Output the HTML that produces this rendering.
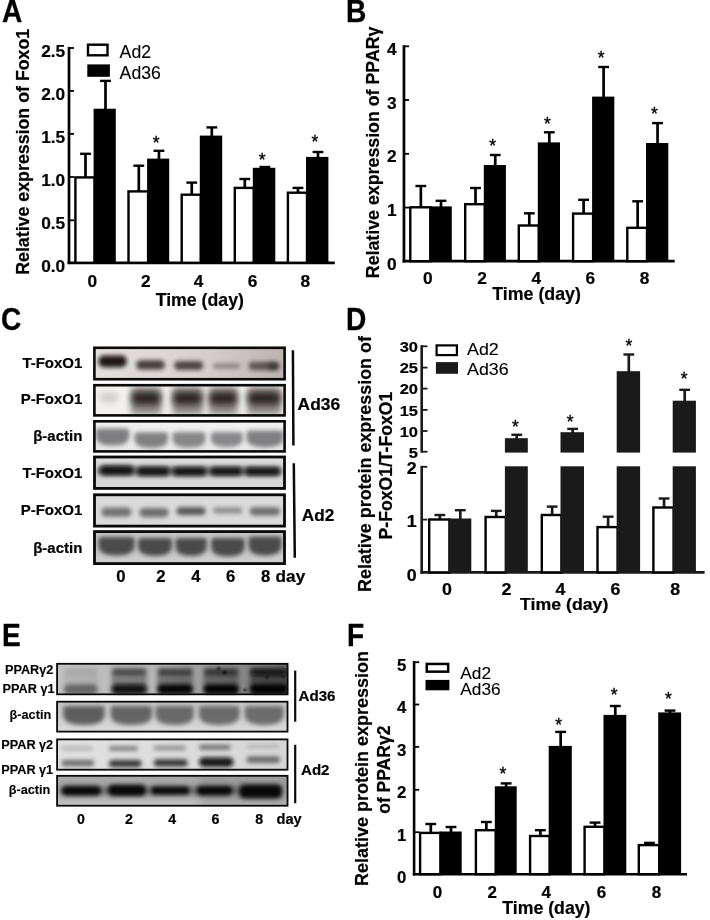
<!DOCTYPE html>
<html lang="en"><head><meta charset="utf-8"><title>Figure</title>
<style>html,body{margin:0;padding:0;background:#fff;}svg{display:block;}text{font-family:'Liberation Sans', sans-serif;fill:#000;}</style>
</head><body>
<svg width="710" height="920" viewBox="0 0 710 920">
<defs>
<filter id="b1" x="-50%" y="-100%" width="200%" height="300%"><feGaussianBlur stdDeviation="1"/></filter>
<filter id="b2" x="-50%" y="-100%" width="200%" height="300%"><feGaussianBlur stdDeviation="2"/></filter>
<filter id="b3" x="-50%" y="-100%" width="200%" height="300%"><feGaussianBlur stdDeviation="3"/></filter>
<filter id="b4" x="-50%" y="-100%" width="200%" height="300%"><feGaussianBlur stdDeviation="4"/></filter>
</defs>
<rect width="710" height="920" fill="#fff"/>
<text transform="translate(2.0 21.7) scale(0.92 1)" font-size="30.6" font-weight="bold" stroke="#000" stroke-width="0.3">A</text>
<text x="29" y="274.8" font-size="17.8" font-weight="bold" text-anchor="start" transform="rotate(-90 29 274.8)" stroke="#000" stroke-width="0.2">Relative expression of Foxo1</text>
<line x1="69.0" y1="46.9" x2="69.0" y2="264.1" stroke="#000" stroke-width="2.7"/>
<line x1="67.65" y1="262.8" x2="334.8" y2="262.8" stroke="#000" stroke-width="2.7"/>
<line x1="69.0" y1="48.0" x2="74.0" y2="48.0" stroke="#000" stroke-width="1.8"/>
<text x="65.2" y="56.7" font-size="17.3" font-weight="bold" text-anchor="end" stroke="#000" stroke-width="0.2">2.5</text>
<line x1="69.0" y1="90.9" x2="74.0" y2="90.9" stroke="#000" stroke-width="1.8"/>
<text x="65.2" y="99.60000000000001" font-size="17.3" font-weight="bold" text-anchor="end" stroke="#000" stroke-width="0.2">2.0</text>
<line x1="69.0" y1="133.9" x2="74.0" y2="133.9" stroke="#000" stroke-width="1.8"/>
<text x="65.2" y="142.6" font-size="17.3" font-weight="bold" text-anchor="end" stroke="#000" stroke-width="0.2">1.5</text>
<line x1="69.0" y1="177.0" x2="74.0" y2="177.0" stroke="#000" stroke-width="1.8"/>
<text x="65.2" y="185.7" font-size="17.3" font-weight="bold" text-anchor="end" stroke="#000" stroke-width="0.2">1.0</text>
<line x1="69.0" y1="220.3" x2="74.0" y2="220.3" stroke="#000" stroke-width="1.8"/>
<text x="65.2" y="229.0" font-size="17.3" font-weight="bold" text-anchor="end" stroke="#000" stroke-width="0.2">0.5</text>
<text x="65.2" y="271.6" font-size="17.3" font-weight="bold" text-anchor="end" stroke="#000" stroke-width="0.2">0.0</text>
<line x1="85.5" y1="153.8" x2="85.5" y2="177.2" stroke="#000" stroke-width="2.7"/>
<line x1="80.1" y1="153.8" x2="90.9" y2="153.8" stroke="#000" stroke-width="2.4"/>
<line x1="105.49999999999999" y1="80.9" x2="105.49999999999999" y2="109.7" stroke="#000" stroke-width="2.7"/>
<line x1="100.09999999999998" y1="80.9" x2="110.89999999999999" y2="80.9" stroke="#000" stroke-width="2.4"/>
<rect x="75.40" y="177.40" width="19.20" height="85.40" fill="#fff" stroke="#000" stroke-width="2.4"/>
<rect x="93.60" y="108.70" width="22.20" height="154.10" fill="#000"/>
<line x1="138.79999999999998" y1="165.7" x2="138.79999999999998" y2="191.2" stroke="#000" stroke-width="2.7"/>
<line x1="133.39999999999998" y1="165.7" x2="144.2" y2="165.7" stroke="#000" stroke-width="2.4"/>
<line x1="158.95" y1="150.8" x2="158.95" y2="159.6" stroke="#000" stroke-width="2.7"/>
<line x1="153.54999999999998" y1="150.8" x2="164.35" y2="150.8" stroke="#000" stroke-width="2.4"/>
<rect x="128.50" y="191.40" width="19.60" height="71.40" fill="#fff" stroke="#000" stroke-width="2.4"/>
<rect x="147.10" y="158.60" width="22.10" height="104.20" fill="#000"/>
<line x1="191.75" y1="182.6" x2="191.75" y2="194.5" stroke="#000" stroke-width="2.7"/>
<line x1="186.35" y1="182.6" x2="197.15" y2="182.6" stroke="#000" stroke-width="2.4"/>
<line x1="211.8" y1="127.4" x2="211.8" y2="136.6" stroke="#000" stroke-width="2.7"/>
<line x1="206.4" y1="127.4" x2="217.20000000000002" y2="127.4" stroke="#000" stroke-width="2.4"/>
<rect x="181.70" y="194.70" width="19.10" height="68.10" fill="#fff" stroke="#000" stroke-width="2.4"/>
<rect x="199.80" y="135.60" width="22.40" height="127.20" fill="#000"/>
<line x1="244.79999999999998" y1="179.0" x2="244.79999999999998" y2="187.7" stroke="#000" stroke-width="2.7"/>
<line x1="239.39999999999998" y1="179.0" x2="250.2" y2="179.0" stroke="#000" stroke-width="2.4"/>
<line x1="264.85" y1="167.0" x2="264.85" y2="168.8" stroke="#000" stroke-width="2.7"/>
<line x1="259.45000000000005" y1="167.0" x2="270.25" y2="167.0" stroke="#000" stroke-width="2.4"/>
<rect x="234.80" y="187.90" width="19.00" height="74.90" fill="#fff" stroke="#000" stroke-width="2.4"/>
<rect x="252.80" y="167.80" width="22.50" height="95.00" fill="#000"/>
<line x1="297.95000000000005" y1="187.9" x2="297.95000000000005" y2="192.5" stroke="#000" stroke-width="2.7"/>
<line x1="292.55000000000007" y1="187.9" x2="303.35" y2="187.9" stroke="#000" stroke-width="2.4"/>
<line x1="318.0" y1="152.0" x2="318.0" y2="157.9" stroke="#000" stroke-width="2.7"/>
<line x1="312.6" y1="152.0" x2="323.4" y2="152.0" stroke="#000" stroke-width="2.4"/>
<rect x="287.90" y="192.70" width="19.10" height="70.10" fill="#fff" stroke="#000" stroke-width="2.4"/>
<rect x="306.00" y="156.90" width="22.40" height="105.90" fill="#000"/>
<text x="92.4" y="286.6" font-size="17.3" font-weight="bold" text-anchor="middle" stroke="#000" stroke-width="0.2">0</text>
<text x="145.7" y="286.6" font-size="17.3" font-weight="bold" text-anchor="middle" stroke="#000" stroke-width="0.2">2</text>
<text x="198.5" y="286.6" font-size="17.3" font-weight="bold" text-anchor="middle" stroke="#000" stroke-width="0.2">4</text>
<text x="252.6" y="286.6" font-size="17.3" font-weight="bold" text-anchor="middle" stroke="#000" stroke-width="0.2">6</text>
<text x="305.2" y="286.6" font-size="17.3" font-weight="bold" text-anchor="middle" stroke="#000" stroke-width="0.2">8</text>
<text x="199.8" y="305.8" font-size="17.7" font-weight="bold" text-anchor="middle" stroke="#000" stroke-width="0.2">Time (day)</text>
<text x="156.2" y="148.5" font-size="17.5" font-weight="normal" text-anchor="middle" stroke="#000" stroke-width="0.35">*</text>
<text x="262.2" y="166.20000000000002" font-size="17.5" font-weight="normal" text-anchor="middle" stroke="#000" stroke-width="0.35">*</text>
<text x="314.8" y="147.9" font-size="17.5" font-weight="normal" text-anchor="middle" stroke="#000" stroke-width="0.35">*</text>
<rect x="88.00" y="44.70" width="19.50" height="10.60" fill="#fff" stroke="#000" stroke-width="2.4"/>
<rect x="87.30" y="64.40" width="22.60" height="12.40" fill="#000"/>
<text x="119.6" y="58.1" font-size="17.7" font-weight="normal" text-anchor="start" stroke="#000" stroke-width="0.1">Ad2</text>
<text x="119.6" y="79" font-size="17.7" font-weight="normal" text-anchor="start" stroke="#000" stroke-width="0.1">Ad36</text>
<text transform="translate(346.0 21.7) scale(0.92 1)" font-size="30.6" font-weight="bold" stroke="#000" stroke-width="0.3">B</text>
<text x="379.2" y="278.2" font-size="17.8" font-weight="bold" text-anchor="start" transform="rotate(-90 379.2 278.2)" stroke="#000" stroke-width="0.2">Relative expression of PPARγ</text>
<line x1="403.95" y1="45.2" x2="403.95" y2="262.5" stroke="#000" stroke-width="2.7"/>
<line x1="402.59999999999997" y1="261.2" x2="674.7" y2="261.2" stroke="#000" stroke-width="2.7"/>
<line x1="403.95" y1="46.3" x2="409.0" y2="46.3" stroke="#000" stroke-width="1.8"/>
<text x="396.5" y="54.9" font-size="17.3" font-weight="bold" text-anchor="end" stroke="#000" stroke-width="0.2">4</text>
<line x1="403.95" y1="100.0" x2="409.0" y2="100.0" stroke="#000" stroke-width="1.8"/>
<text x="396.5" y="108.6" font-size="17.3" font-weight="bold" text-anchor="end" stroke="#000" stroke-width="0.2">3</text>
<line x1="403.95" y1="153.8" x2="409.0" y2="153.8" stroke="#000" stroke-width="1.8"/>
<text x="396.5" y="162.4" font-size="17.3" font-weight="bold" text-anchor="end" stroke="#000" stroke-width="0.2">2</text>
<line x1="403.95" y1="207.6" x2="409.0" y2="207.6" stroke="#000" stroke-width="1.8"/>
<text x="396.5" y="216.2" font-size="17.3" font-weight="bold" text-anchor="end" stroke="#000" stroke-width="0.2">1</text>
<text x="396.5" y="269.9" font-size="17.3" font-weight="bold" text-anchor="end" stroke="#000" stroke-width="0.2">0</text>
<line x1="420.85" y1="186.0" x2="420.85" y2="207.1" stroke="#000" stroke-width="2.7"/>
<line x1="415.45000000000005" y1="186.0" x2="426.25" y2="186.0" stroke="#000" stroke-width="2.4"/>
<line x1="441.0" y1="200.8" x2="441.0" y2="207.4" stroke="#000" stroke-width="2.7"/>
<line x1="435.6" y1="200.8" x2="446.4" y2="200.8" stroke="#000" stroke-width="2.4"/>
<rect x="410.30" y="207.30" width="20.10" height="53.90" fill="#fff" stroke="#000" stroke-width="2.4"/>
<rect x="429.40" y="206.40" width="22.40" height="54.80" fill="#000"/>
<line x1="475.5" y1="188.0" x2="475.5" y2="204.0" stroke="#000" stroke-width="2.7"/>
<line x1="470.1" y1="188.0" x2="480.9" y2="188.0" stroke="#000" stroke-width="2.4"/>
<line x1="495.25" y1="155.0" x2="495.25" y2="166.0" stroke="#000" stroke-width="2.7"/>
<line x1="489.85" y1="155.0" x2="500.65" y2="155.0" stroke="#000" stroke-width="2.4"/>
<rect x="465.20" y="204.20" width="19.60" height="57.00" fill="#fff" stroke="#000" stroke-width="2.4"/>
<rect x="483.80" y="165.00" width="22.10" height="96.20" fill="#000"/>
<line x1="529.3000000000001" y1="213.3" x2="529.3000000000001" y2="225.3" stroke="#000" stroke-width="2.7"/>
<line x1="523.9000000000001" y1="213.3" x2="534.7" y2="213.3" stroke="#000" stroke-width="2.4"/>
<line x1="549.3" y1="132.3" x2="549.3" y2="143.4" stroke="#000" stroke-width="2.7"/>
<line x1="543.9" y1="132.3" x2="554.6999999999999" y2="132.3" stroke="#000" stroke-width="2.4"/>
<rect x="518.80" y="225.50" width="20.00" height="35.70" fill="#fff" stroke="#000" stroke-width="2.4"/>
<rect x="537.80" y="142.40" width="22.20" height="118.80" fill="#000"/>
<line x1="583.6" y1="199.8" x2="583.6" y2="213.4" stroke="#000" stroke-width="2.7"/>
<line x1="578.2" y1="199.8" x2="589.0" y2="199.8" stroke="#000" stroke-width="2.4"/>
<line x1="603.6" y1="67.0" x2="603.6" y2="97.6" stroke="#000" stroke-width="2.7"/>
<line x1="598.2" y1="67.0" x2="609.0" y2="67.0" stroke="#000" stroke-width="2.4"/>
<rect x="573.10" y="213.60" width="20.00" height="47.60" fill="#fff" stroke="#000" stroke-width="2.4"/>
<rect x="592.10" y="96.60" width="22.20" height="164.60" fill="#000"/>
<line x1="637.65" y1="201.3" x2="637.65" y2="227.6" stroke="#000" stroke-width="2.7"/>
<line x1="632.25" y1="201.3" x2="643.05" y2="201.3" stroke="#000" stroke-width="2.4"/>
<line x1="657.55" y1="123.1" x2="657.55" y2="144.0" stroke="#000" stroke-width="2.7"/>
<line x1="652.15" y1="123.1" x2="662.9499999999999" y2="123.1" stroke="#000" stroke-width="2.4"/>
<rect x="627.30" y="227.80" width="19.70" height="33.40" fill="#fff" stroke="#000" stroke-width="2.4"/>
<rect x="646.00" y="143.00" width="22.30" height="118.20" fill="#000"/>
<text x="427.9" y="284.3" font-size="17.3" font-weight="bold" text-anchor="middle" stroke="#000" stroke-width="0.2">0</text>
<text x="482.1" y="284.3" font-size="17.3" font-weight="bold" text-anchor="middle" stroke="#000" stroke-width="0.2">2</text>
<text x="536.3" y="284.3" font-size="17.3" font-weight="bold" text-anchor="middle" stroke="#000" stroke-width="0.2">4</text>
<text x="590.3" y="284.3" font-size="17.3" font-weight="bold" text-anchor="middle" stroke="#000" stroke-width="0.2">6</text>
<text x="644.6" y="284.3" font-size="17.3" font-weight="bold" text-anchor="middle" stroke="#000" stroke-width="0.2">8</text>
<text x="536.6" y="299.8" font-size="17.8" font-weight="bold" text-anchor="middle" stroke="#000" stroke-width="0.2">Time (day)</text>
<text x="492.7" y="151.70000000000002" font-size="17.5" font-weight="normal" text-anchor="middle" stroke="#000" stroke-width="0.35">*</text>
<text x="547.3" y="129.9" font-size="17.5" font-weight="normal" text-anchor="middle" stroke="#000" stroke-width="0.35">*</text>
<text x="601.2" y="63.699999999999996" font-size="17.5" font-weight="normal" text-anchor="middle" stroke="#000" stroke-width="0.35">*</text>
<text x="654.5" y="120.4" font-size="17.5" font-weight="normal" text-anchor="middle" stroke="#000" stroke-width="0.35">*</text>
<text transform="translate(1.0 330.0) scale(0.92 1)" font-size="30.6" font-weight="bold" stroke="#000" stroke-width="0.3">C</text>
<linearGradient id="gC1" x1="0" y1="0" x2="1" y2="0"><stop offset="0" stop-color="#e4e0de"/><stop offset="0.5" stop-color="#d9d4d2"/><stop offset="0.8" stop-color="#c8c0be"/><stop offset="1" stop-color="#bcb2b0"/></linearGradient>
<clipPath id="c1"><rect x="93.1" y="346.5" width="192.80" height="34.00"/></clipPath>
<g clip-path="url(#c1)">
<rect x="93.10" y="346.50" width="192.80" height="34.00" fill="url(#gC1)"/>
<rect x="98.6" y="355.6" width="28.0" height="11.6" rx="5.0" fill="#120c0c" opacity="0.95" filter="url(#b2)"/>
<rect x="136.2" y="360.2" width="28.6" height="9.4" rx="4.7" fill="#2c2424" opacity="0.85" filter="url(#b2)"/>
<rect x="174.1" y="361.0" width="29.1" height="9.0" rx="4.5" fill="#2e2626" opacity="0.82" filter="url(#b2)"/>
<rect x="213.0" y="363.6" width="27.0" height="5.0" rx="2.5" fill="#5a5452" opacity="0.6" filter="url(#b2)"/>
<rect x="248.5" y="361.8" width="30.5" height="8.4" rx="4.2" fill="#3a3432" opacity="0.75" filter="url(#b2)"/>
<rect x="268.0" y="362.5" width="11.0" height="7.3" rx="3.7" fill="#1a1414" opacity="0.5" filter="url(#b2)"/>
</g>
<rect x="94.40" y="347.80" width="190.20" height="31.40" fill="none" stroke="#0a0a0a" stroke-width="2.6"/>
<clipPath id="c2"><rect x="93.1" y="383.9" width="192.80" height="32.80"/></clipPath>
<g clip-path="url(#c2)">
<rect x="93.10" y="383.90" width="192.80" height="32.80" fill="#f3f2f1"/>
<rect x="99.7" y="392.5" width="18.8" height="10.0" rx="5.0" fill="#8a8482" opacity="0.32" filter="url(#b3)"/>
<rect x="130.7" y="387.0" width="30.8" height="27.5" rx="4.0" fill="#4a4240" opacity="0.6" filter="url(#b3)"/>
<rect x="131.7" y="392.0" width="28.8" height="12.5" rx="5.0" fill="#140e0e" opacity="0.8" filter="url(#b3)"/>
<rect x="172.0" y="387.0" width="31.0" height="27.5" rx="4.0" fill="#4a4240" opacity="0.6" filter="url(#b3)"/>
<rect x="173.0" y="392.0" width="29.0" height="12.5" rx="5.0" fill="#140e0e" opacity="0.8" filter="url(#b3)"/>
<rect x="208.5" y="387.0" width="29.5" height="27.5" rx="4.0" fill="#4a4240" opacity="0.6" filter="url(#b3)"/>
<rect x="209.5" y="392.0" width="27.5" height="12.5" rx="5.0" fill="#140e0e" opacity="0.8" filter="url(#b3)"/>
<rect x="247.0" y="387.0" width="34.5" height="27.5" rx="4.0" fill="#4a4240" opacity="0.6" filter="url(#b3)"/>
<rect x="248.0" y="392.0" width="32.5" height="12.5" rx="5.0" fill="#140e0e" opacity="0.8" filter="url(#b3)"/>
</g>
<rect x="94.40" y="385.20" width="190.20" height="30.20" fill="none" stroke="#0a0a0a" stroke-width="2.6"/>
<linearGradient id="gC3" x1="0" y1="0" x2="0" y2="1"><stop offset="0" stop-color="#f2f2f2"/><stop offset="1" stop-color="#e6e6e6"/></linearGradient>
<clipPath id="c3"><rect x="93.1" y="420.0" width="192.80" height="32.70"/></clipPath>
<g clip-path="url(#c3)">
<rect x="93.10" y="420.00" width="192.80" height="32.70" fill="url(#gC3)"/>
<path d="M95.9,430.4 Q95.9,428.4 99.9,428.4 L125.2,428.4 Q129.2,428.4 129.2,430.4 L129.2,436.1 Q129.2,445.6 112.5,445.6 Q95.9,445.6 95.9,436.1 Z" fill="#666668" opacity="0.82" filter="url(#b2)"/>
<path d="M134.6,434.2 Q134.6,432.2 138.6,432.2 L164.0,432.2 Q168.0,432.2 168.0,434.2 L168.0,439.3 Q168.0,448.0 151.3,448.0 Q134.6,448.0 134.6,439.3 Z" fill="#6a6a6c" opacity="0.82" filter="url(#b2)"/>
<path d="M172.6,434.0 Q172.6,432.0 176.6,432.0 L201.5,432.0 Q205.5,432.0 205.5,434.0 L205.5,439.0 Q205.5,447.6 189.1,447.6 Q172.6,447.6 172.6,439.0 Z" fill="#6e6e70" opacity="0.8" filter="url(#b2)"/>
<path d="M210.9,434.0 Q210.9,432.0 214.9,432.0 L238.7,432.0 Q242.7,432.0 242.7,434.0 L242.7,438.8 Q242.7,447.0 226.8,447.0 Q210.9,447.0 210.9,438.8 Z" fill="#707072" opacity="0.8" filter="url(#b2)"/>
<path d="M246.6,432.5 Q246.6,430.5 250.6,430.5 L279.5,430.5 Q283.5,430.5 283.5,432.5 L283.5,438.0 Q283.5,447.2 265.1,447.2 Q246.6,447.2 246.6,438.0 Z" fill="#68686a" opacity="0.82" filter="url(#b2)"/>
</g>
<rect x="94.40" y="421.30" width="190.20" height="30.10" fill="none" stroke="#0a0a0a" stroke-width="2.6"/>
<linearGradient id="gC4" x1="0" y1="0" x2="0" y2="1"><stop offset="0" stop-color="#e0e0e0"/><stop offset="0.4" stop-color="#d2d2d2"/><stop offset="1" stop-color="#d8d8d8"/></linearGradient>
<clipPath id="c4"><rect x="93.1" y="455.6" width="192.80" height="34.20"/></clipPath>
<g clip-path="url(#c4)">
<rect x="93.10" y="455.60" width="192.80" height="34.20" fill="url(#gC4)"/>
<rect x="97.0" y="466.5" width="185.0" height="9.0" rx="4.5" fill="#3a3a3a" opacity="0.6" filter="url(#b2)"/>
<rect x="99.7" y="465.4" width="34.1" height="9.5" rx="4.8" fill="#0c0c0c" opacity="0.92" filter="url(#b2)"/>
<rect x="137.0" y="467.0" width="32.5" height="8.8" rx="4.4" fill="#0c0c0c" opacity="0.92" filter="url(#b2)"/>
<rect x="172.6" y="467.2" width="33.7" height="8.6" rx="4.3" fill="#0c0c0c" opacity="0.92" filter="url(#b2)"/>
<rect x="210.2" y="467.2" width="31.8" height="8.4" rx="4.2" fill="#0c0c0c" opacity="0.92" filter="url(#b2)"/>
<rect x="245.0" y="467.6" width="35.0" height="8.0" rx="4.0" fill="#0c0c0c" opacity="0.92" filter="url(#b2)"/>
</g>
<rect x="94.50" y="457.00" width="190.00" height="31.40" fill="none" stroke="#0a0a0a" stroke-width="2.8"/>
<clipPath id="c5"><rect x="93.1" y="493.4" width="192.80" height="34.10"/></clipPath>
<g clip-path="url(#c5)">
<rect x="93.10" y="493.40" width="192.80" height="34.10" fill="#dadada"/>
<rect x="101.3" y="507.4" width="30.2" height="9.4" rx="4.7" fill="#4c4c4c" opacity="0.72" filter="url(#b2)"/>
<rect x="139.3" y="508.0" width="29.4" height="9.2" rx="4.6" fill="#4a4a4a" opacity="0.74" filter="url(#b2)"/>
<rect x="176.5" y="507.2" width="29.0" height="7.8" rx="3.9" fill="#363636" opacity="0.8" filter="url(#b2)"/>
<rect x="213.3" y="507.4" width="28.7" height="6.2" rx="3.1" fill="#5c5c5c" opacity="0.62" filter="url(#b2)"/>
<rect x="249.7" y="507.2" width="30.3" height="8.2" rx="4.1" fill="#464646" opacity="0.74" filter="url(#b2)"/>
</g>
<rect x="94.50" y="494.80" width="190.00" height="31.30" fill="none" stroke="#0a0a0a" stroke-width="2.8"/>
<linearGradient id="gC6" x1="0" y1="0" x2="0" y2="1"><stop offset="0" stop-color="#c6c6c6"/><stop offset="0.6" stop-color="#c4c4c4"/><stop offset="1" stop-color="#d2d2d2"/></linearGradient>
<clipPath id="c6"><rect x="93.1" y="530.2" width="192.80" height="34.80"/></clipPath>
<g clip-path="url(#c6)">
<rect x="93.10" y="530.20" width="192.80" height="34.80" fill="url(#gC6)"/>
<path d="M98.5,539.0 Q98.5,537.0 102.5,537.0 L130.5,537.0 Q134.5,537.0 134.5,539.0 L134.5,545.3 Q134.5,555.5 116.5,555.5 Q98.5,555.5 98.5,545.3 Z" fill="#363636" opacity="0.85" filter="url(#b2)"/>
<path d="M138.0,540.0 Q138.0,538.0 142.0,538.0 L168.0,538.0 Q172.0,538.0 172.0,540.0 L172.0,546.1 Q172.0,556.0 155.0,556.0 Q138.0,556.0 138.0,546.1 Z" fill="#363636" opacity="0.85" filter="url(#b2)"/>
<path d="M175.5,540.0 Q175.5,538.0 179.5,538.0 L202.8,538.0 Q206.8,538.0 206.8,540.0 L206.8,546.1 Q206.8,556.0 191.2,556.0 Q175.5,556.0 175.5,546.1 Z" fill="#363636" opacity="0.85" filter="url(#b2)"/>
<path d="M211.2,540.0 Q211.2,538.0 215.2,538.0 L240.6,538.0 Q244.6,538.0 244.6,540.0 L244.6,546.3 Q244.6,556.5 227.9,556.5 Q211.2,556.5 211.2,546.3 Z" fill="#363636" opacity="0.85" filter="url(#b2)"/>
<path d="M248.5,538.5 Q248.5,536.5 252.5,536.5 L277.5,536.5 Q281.5,536.5 281.5,538.5 L281.5,545.0 Q281.5,555.5 265.0,555.5 Q248.5,555.5 248.5,545.0 Z" fill="#363636" opacity="0.85" filter="url(#b2)"/>
</g>
<rect x="94.50" y="531.60" width="190.00" height="32.00" fill="none" stroke="#0a0a0a" stroke-width="2.8"/>
<text x="82.4" y="368.3" font-size="15" font-weight="bold" text-anchor="end" stroke="#000" stroke-width="0.2">T-FoxO1</text>
<text x="82.4" y="404.2" font-size="15" font-weight="bold" text-anchor="end" stroke="#000" stroke-width="0.2">P-FoxO1</text>
<text x="82.4" y="440.7" font-size="15" font-weight="bold" text-anchor="end" stroke="#000" stroke-width="0.2">β-actin</text>
<text x="82.4" y="477.7" font-size="15" font-weight="bold" text-anchor="end" stroke="#000" stroke-width="0.2">T-FoxO1</text>
<text x="82.4" y="514.8" font-size="15" font-weight="bold" text-anchor="end" stroke="#000" stroke-width="0.2">P-FoxO1</text>
<text x="82.4" y="553.3" font-size="15" font-weight="bold" text-anchor="end" stroke="#000" stroke-width="0.2">β-actin</text>
<line x1="292.9" y1="350.2" x2="293.4" y2="445.4" stroke="#0a0a0a" stroke-width="2.5"/>
<line x1="293.8" y1="463.3" x2="294.8" y2="557.8" stroke="#0a0a0a" stroke-width="2.5"/>
<text x="297.6" y="409.5" font-size="17.4" font-weight="bold" text-anchor="start" stroke="#000" stroke-width="0.2">Ad36</text>
<text x="301.8" y="520.7" font-size="17.2" font-weight="bold" text-anchor="start" stroke="#000" stroke-width="0.2">Ad2</text>
<text x="120.9" y="582.0" font-size="16.7" font-weight="bold" text-anchor="middle" stroke="#000" stroke-width="0.2">0</text>
<text x="160.8" y="582.0" font-size="16.7" font-weight="bold" text-anchor="middle" stroke="#000" stroke-width="0.2">2</text>
<text x="196.0" y="582.0" font-size="16.7" font-weight="bold" text-anchor="middle" stroke="#000" stroke-width="0.2">4</text>
<text x="230.6" y="582.0" font-size="16.7" font-weight="bold" text-anchor="middle" stroke="#000" stroke-width="0.2">6</text>
<text x="265.6" y="582.0" font-size="16.7" font-weight="bold" text-anchor="middle" stroke="#000" stroke-width="0.2">8</text>
<text x="275.6" y="582.0" font-size="17.2" font-weight="bold" text-anchor="start" stroke="#000" stroke-width="0.2">day</text>
<text transform="translate(346.0 329.8) scale(0.92 1)" font-size="30.6" font-weight="bold" stroke="#000" stroke-width="0.3">D</text>
<text x="371.2" y="592.0" font-size="17.93" font-weight="bold" text-anchor="start" transform="rotate(-90 371.2 592.0)" stroke="#000" stroke-width="0.2">Relative protein expression of</text>
<text x="391.8" y="539.4" font-size="17.6" font-weight="bold" text-anchor="start" transform="rotate(-90 391.8 539.4)" stroke="#000" stroke-width="0.2">P-FoxO1/T-FoxO1</text>
<line x1="421.7" y1="345.2" x2="421.7" y2="452.7" stroke="#1a1a1a" stroke-width="2.6"/>
<line x1="421.7" y1="346.3" x2="427.5" y2="346.3" stroke="#1a1a1a" stroke-width="1.8"/>
<text transform="translate(418.0 352.1) scale(1.13 1)" font-size="14.6" font-weight="bold" text-anchor="end" stroke="#000" stroke-width="0.2">30</text>
<line x1="421.7" y1="367.6" x2="427.5" y2="367.6" stroke="#1a1a1a" stroke-width="1.8"/>
<text transform="translate(418.0 373.40000000000003) scale(1.13 1)" font-size="14.6" font-weight="bold" text-anchor="end" stroke="#000" stroke-width="0.2">25</text>
<line x1="421.7" y1="388.6" x2="427.5" y2="388.6" stroke="#1a1a1a" stroke-width="1.8"/>
<text transform="translate(418.0 394.40000000000003) scale(1.13 1)" font-size="14.6" font-weight="bold" text-anchor="end" stroke="#000" stroke-width="0.2">20</text>
<line x1="421.7" y1="409.9" x2="427.5" y2="409.9" stroke="#1a1a1a" stroke-width="1.8"/>
<text transform="translate(418.0 415.7) scale(1.13 1)" font-size="14.6" font-weight="bold" text-anchor="end" stroke="#000" stroke-width="0.2">15</text>
<line x1="421.7" y1="431.0" x2="427.5" y2="431.0" stroke="#1a1a1a" stroke-width="1.8"/>
<text transform="translate(418.0 436.8) scale(1.13 1)" font-size="14.6" font-weight="bold" text-anchor="end" stroke="#000" stroke-width="0.2">10</text>
<line x1="421.7" y1="451.7" x2="427.5" y2="451.7" stroke="#1a1a1a" stroke-width="1.8"/>
<text transform="translate(418.0 457.5) scale(1.13 1)" font-size="14.6" font-weight="bold" text-anchor="end" stroke="#000" stroke-width="0.2">5</text>
<line x1="421.7" y1="465.8" x2="421.7" y2="573.6999999999999" stroke="#1a1a1a" stroke-width="2.6"/>
<line x1="420.4" y1="572.4" x2="704.6" y2="572.4" stroke="#1a1a1a" stroke-width="2.6"/>
<line x1="421.7" y1="466.8" x2="427.3" y2="466.8" stroke="#1a1a1a" stroke-width="1.8"/>
<text transform="translate(416.6 474.1) scale(1.13 1)" font-size="15.8" font-weight="bold" text-anchor="end" stroke="#000" stroke-width="0.2">2</text>
<line x1="421.7" y1="519.6" x2="427.3" y2="519.6" stroke="#1a1a1a" stroke-width="1.8"/>
<text transform="translate(416.6 526.9) scale(1.13 1)" font-size="15.8" font-weight="bold" text-anchor="end" stroke="#000" stroke-width="0.2">1</text>
<text transform="translate(416.6 581.4) scale(1.13 1)" font-size="15.8" font-weight="bold" text-anchor="end" stroke="#000" stroke-width="0.2">0</text>
<line x1="439.85" y1="515.0" x2="439.85" y2="519.3" stroke="#1a1a1a" stroke-width="2.7"/>
<line x1="434.45000000000005" y1="515.0" x2="445.25" y2="515.0" stroke="#1a1a1a" stroke-width="2.4"/>
<line x1="460.29999999999995" y1="510.2" x2="460.29999999999995" y2="519.5" stroke="#1a1a1a" stroke-width="2.7"/>
<line x1="454.9" y1="510.2" x2="465.69999999999993" y2="510.2" stroke="#1a1a1a" stroke-width="2.4"/>
<rect x="429.20" y="519.50" width="20.30" height="52.90" fill="#fff" stroke="#000" stroke-width="2.4"/>
<rect x="448.50" y="518.50" width="22.80" height="53.90" fill="#1a1a1a"/>
<line x1="496.25" y1="510.9" x2="496.25" y2="516.8" stroke="#1a1a1a" stroke-width="2.7"/>
<line x1="490.85" y1="510.9" x2="501.65" y2="510.9" stroke="#1a1a1a" stroke-width="2.4"/>
<line x1="516.7499999999999" y1="434.8" x2="516.7499999999999" y2="439.2" stroke="#1a1a1a" stroke-width="2.7"/>
<line x1="511.3499999999999" y1="434.8" x2="522.1499999999999" y2="434.8" stroke="#1a1a1a" stroke-width="2.4"/>
<rect x="485.60" y="517.00" width="20.30" height="55.40" fill="#fff" stroke="#000" stroke-width="2.4"/>
<rect x="504.90" y="438.20" width="22.90" height="14.40" fill="#1a1a1a"/>
<rect x="504.90" y="466.30" width="22.90" height="106.10" fill="#1a1a1a"/>
<line x1="552.15" y1="506.6" x2="552.15" y2="514.8" stroke="#1a1a1a" stroke-width="2.7"/>
<line x1="546.75" y1="506.6" x2="557.55" y2="506.6" stroke="#1a1a1a" stroke-width="2.4"/>
<line x1="572.65" y1="428.9" x2="572.65" y2="433.2" stroke="#1a1a1a" stroke-width="2.7"/>
<line x1="567.25" y1="428.9" x2="578.05" y2="428.9" stroke="#1a1a1a" stroke-width="2.4"/>
<rect x="541.80" y="515.00" width="19.70" height="57.40" fill="#fff" stroke="#000" stroke-width="2.4"/>
<rect x="560.50" y="432.20" width="23.50" height="20.40" fill="#1a1a1a"/>
<rect x="560.50" y="466.30" width="23.50" height="106.10" fill="#1a1a1a"/>
<line x1="608.1" y1="516.7" x2="608.1" y2="526.9" stroke="#1a1a1a" stroke-width="2.7"/>
<line x1="602.7" y1="516.7" x2="613.5" y2="516.7" stroke="#1a1a1a" stroke-width="2.4"/>
<line x1="628.8000000000001" y1="354.5" x2="628.8000000000001" y2="372.2" stroke="#1a1a1a" stroke-width="2.7"/>
<line x1="623.4000000000001" y1="354.5" x2="634.2" y2="354.5" stroke="#1a1a1a" stroke-width="2.4"/>
<rect x="597.50" y="527.10" width="20.20" height="45.30" fill="#fff" stroke="#000" stroke-width="2.4"/>
<rect x="616.70" y="371.20" width="23.40" height="81.40" fill="#1a1a1a"/>
<rect x="616.70" y="466.30" width="23.40" height="106.10" fill="#1a1a1a"/>
<line x1="664.0500000000001" y1="498.5" x2="664.0500000000001" y2="507.3" stroke="#1a1a1a" stroke-width="2.7"/>
<line x1="658.6500000000001" y1="498.5" x2="669.45" y2="498.5" stroke="#1a1a1a" stroke-width="2.4"/>
<line x1="684.6999999999999" y1="389.8" x2="684.6999999999999" y2="401.7" stroke="#1a1a1a" stroke-width="2.7"/>
<line x1="679.3" y1="389.8" x2="690.0999999999999" y2="389.8" stroke="#1a1a1a" stroke-width="2.4"/>
<rect x="653.40" y="507.50" width="20.30" height="64.90" fill="#fff" stroke="#000" stroke-width="2.4"/>
<rect x="672.70" y="400.70" width="23.20" height="51.90" fill="#1a1a1a"/>
<rect x="672.70" y="466.30" width="23.20" height="106.10" fill="#1a1a1a"/>
<text transform="translate(446.9 594.6) scale(1.13 1)" font-size="15.8" font-weight="bold" text-anchor="middle" stroke="#000" stroke-width="0.2">0</text>
<text transform="translate(506.5 594.6) scale(1.13 1)" font-size="15.8" font-weight="bold" text-anchor="middle" stroke="#000" stroke-width="0.2">2</text>
<text transform="translate(560.5 594.6) scale(1.13 1)" font-size="15.8" font-weight="bold" text-anchor="middle" stroke="#000" stroke-width="0.2">4</text>
<text transform="translate(615.4 594.6) scale(1.13 1)" font-size="15.8" font-weight="bold" text-anchor="middle" stroke="#000" stroke-width="0.2">6</text>
<text transform="translate(675.3 594.6) scale(1.13 1)" font-size="15.8" font-weight="bold" text-anchor="middle" stroke="#000" stroke-width="0.2">8</text>
<text transform="translate(564.2 610.4) scale(1.13 1)" font-size="15.7" font-weight="bold" text-anchor="middle" stroke="#000" stroke-width="0.2">Time (day)</text>
<text x="515.3" y="432.5" font-size="17.5" font-weight="normal" text-anchor="middle" stroke="#000" stroke-width="0.35">*</text>
<text x="570.1" y="428.29999999999995" font-size="17.5" font-weight="normal" text-anchor="middle" stroke="#000" stroke-width="0.35">*</text>
<text x="628.8" y="352.0" font-size="17.5" font-weight="normal" text-anchor="middle" stroke="#000" stroke-width="0.35">*</text>
<text x="684.2" y="385.2" font-size="17.5" font-weight="normal" text-anchor="middle" stroke="#000" stroke-width="0.35">*</text>
<rect x="436.60" y="345.40" width="20.30" height="9.70" fill="#fff" stroke="#000" stroke-width="2.2"/>
<rect x="435.90" y="362.10" width="22.10" height="11.70" fill="#1a1a1a"/>
<text transform="translate(467.0 354.8) scale(1.13 1)" font-size="15.8" font-weight="normal" text-anchor="start" stroke="#000" stroke-width="0.1">Ad2</text>
<text transform="translate(467.0 375.2) scale(1.13 1)" font-size="15.8" font-weight="normal" text-anchor="start" stroke="#000" stroke-width="0.1">Ad36</text>
<text transform="translate(2.0 646.2) scale(0.92 1)" font-size="30.6" font-weight="bold" stroke="#000" stroke-width="0.3">E</text>
<linearGradient id="gE1" x1="0" y1="0" x2="1" y2="0"><stop offset="0" stop-color="#c4c4c4"/><stop offset="0.45" stop-color="#b4b4b4"/><stop offset="0.75" stop-color="#8e8e8e"/><stop offset="1" stop-color="#6a6a6a"/></linearGradient>
<clipPath id="c7"><rect x="56.2" y="662.9" width="232.20" height="32.30"/></clipPath>
<g clip-path="url(#c7)">
<rect x="56.20" y="662.90" width="232.20" height="32.30" fill="url(#gE1)"/>
<rect x="64.0" y="668.0" width="33.5" height="25.5" rx="3.0" fill="#303030" opacity="0.1" filter="url(#b2)"/>
<rect x="65.0" y="669.3" width="31.5" height="6.1" rx="3.1" fill="#8a8a8a" opacity="0.22" filter="url(#b2)"/>
<rect x="64.0" y="684.2" width="33.5" height="10.0" rx="5.0" fill="#4a4a4a" opacity="0.72" filter="url(#b2)"/>
<rect x="111.6" y="668.0" width="35.2" height="25.5" rx="3.0" fill="#303030" opacity="0.42" filter="url(#b2)"/>
<rect x="112.6" y="669.3" width="33.2" height="6.1" rx="3.1" fill="#303030" opacity="0.68" filter="url(#b2)"/>
<rect x="111.6" y="684.2" width="35.2" height="10.0" rx="5.0" fill="#080808" opacity="0.95" filter="url(#b2)"/>
<rect x="157.4" y="668.0" width="35.5" height="25.5" rx="3.0" fill="#303030" opacity="0.48" filter="url(#b2)"/>
<rect x="158.4" y="669.3" width="33.5" height="6.1" rx="3.1" fill="#262626" opacity="0.68" filter="url(#b2)"/>
<rect x="157.4" y="684.2" width="35.5" height="10.0" rx="5.0" fill="#060606" opacity="0.95" filter="url(#b2)"/>
<rect x="203.5" y="668.0" width="35.2" height="25.5" rx="3.0" fill="#303030" opacity="0.48" filter="url(#b2)"/>
<rect x="204.5" y="669.3" width="33.2" height="6.1" rx="3.1" fill="#1c1c1c" opacity="0.66" filter="url(#b2)"/>
<rect x="203.5" y="684.2" width="35.2" height="10.0" rx="5.0" fill="#040404" opacity="0.97" filter="url(#b2)"/>
<rect x="250.0" y="668.0" width="38.0" height="25.5" rx="3.0" fill="#303030" opacity="0.7" filter="url(#b2)"/>
<rect x="251.0" y="669.3" width="36.0" height="6.1" rx="3.1" fill="#0c0c0c" opacity="0.9" filter="url(#b2)"/>
<rect x="250.0" y="684.2" width="38.0" height="10.0" rx="5.0" fill="#020202" opacity="1.0" filter="url(#b2)"/>
<circle cx="218.7" cy="668.6" r="1.6" fill="#050505" opacity="0.85" filter="url(#b1)"/>
<circle cx="224.6" cy="672.6" r="1.9" fill="#050505" opacity="0.85" filter="url(#b1)"/>
<circle cx="245.0" cy="690.0" r="1.6" fill="#050505" opacity="0.85" filter="url(#b1)"/>
<circle cx="267.0" cy="677.2" r="1.5" fill="#050505" opacity="0.85" filter="url(#b1)"/>
<circle cx="283.2" cy="677.0" r="1.2" fill="#050505" opacity="0.85" filter="url(#b1)"/>
</g>
<rect x="57.10" y="663.80" width="230.40" height="30.50" fill="none" stroke="#0a0a0a" stroke-width="1.8"/>
<linearGradient id="gE2" x1="0" y1="0" x2="0" y2="1"><stop offset="0" stop-color="#c6c6c6"/><stop offset="0.5" stop-color="#cccccc"/><stop offset="1" stop-color="#dcdcdc"/></linearGradient>
<clipPath id="c8"><rect x="56.2" y="700.8" width="232.20" height="31.70"/></clipPath>
<g clip-path="url(#c8)">
<rect x="56.20" y="700.80" width="232.20" height="31.70" fill="url(#gE2)"/>
<path d="M63.2,708.0 Q63.2,706.0 67.2,706.0 L100.6,706.0 Q104.6,706.0 104.6,708.0 L104.6,714.5 Q104.6,725.0 83.9,725.0 Q63.2,725.0 63.2,714.5 Z" fill="#4c4c4c" opacity="0.85" filter="url(#b2)"/>
<path d="M110.7,708.0 Q110.7,706.0 114.7,706.0 L148.0,706.0 Q152.0,706.0 152.0,708.0 L152.0,714.5 Q152.0,725.0 131.3,725.0 Q110.7,725.0 110.7,714.5 Z" fill="#525252" opacity="0.85" filter="url(#b2)"/>
<path d="M155.6,708.0 Q155.6,706.0 159.6,706.0 L189.8,706.0 Q193.8,706.0 193.8,708.0 L193.8,714.5 Q193.8,725.0 174.7,725.0 Q155.6,725.0 155.6,714.5 Z" fill="#585858" opacity="0.85" filter="url(#b2)"/>
<path d="M199.0,708.0 Q199.0,706.0 203.0,706.0 L235.5,706.0 Q239.5,706.0 239.5,708.0 L239.5,714.5 Q239.5,725.0 219.2,725.0 Q199.0,725.0 199.0,714.5 Z" fill="#5a5a5a" opacity="0.85" filter="url(#b2)"/>
<path d="M244.8,708.0 Q244.8,706.0 248.8,706.0 L279.5,706.0 Q283.5,706.0 283.5,708.0 L283.5,714.5 Q283.5,725.0 264.1,725.0 Q244.8,725.0 244.8,714.5 Z" fill="#5c5c5c" opacity="0.85" filter="url(#b2)"/>
</g>
<rect x="57.10" y="701.70" width="230.40" height="29.90" fill="none" stroke="#0a0a0a" stroke-width="1.8"/>
<linearGradient id="gE3" x1="0" y1="0" x2="1" y2="0"><stop offset="0" stop-color="#e2e2e2"/><stop offset="1" stop-color="#d6d6d6"/></linearGradient>
<clipPath id="c9"><rect x="56.2" y="738.5" width="232.20" height="32.10"/></clipPath>
<g clip-path="url(#c9)">
<rect x="56.20" y="738.50" width="232.20" height="32.10" fill="url(#gE3)"/>
<rect x="61.4" y="746.5" width="31.6" height="3.9" rx="1.9" fill="#8a8a8a" opacity="0.55" filter="url(#b2)"/>
<rect x="61.4" y="760.0" width="32.6" height="6.2" rx="3.1" fill="#505050" opacity="0.8" filter="url(#b2)"/>
<rect x="109.0" y="746.5" width="29.0" height="3.9" rx="1.9" fill="#4a4a4a" opacity="0.75" filter="url(#b2)"/>
<rect x="109.0" y="760.0" width="32.5" height="7.2" rx="3.6" fill="#262626" opacity="0.9" filter="url(#b2)"/>
<rect x="153.9" y="746.0" width="32.1" height="4.0" rx="2.0" fill="#5a5a5a" opacity="0.65" filter="url(#b2)"/>
<rect x="153.9" y="759.2" width="33.7" height="7.4" rx="3.7" fill="#262626" opacity="0.9" filter="url(#b2)"/>
<rect x="199.0" y="745.0" width="31.7" height="4.6" rx="2.3" fill="#404040" opacity="0.75" filter="url(#b2)"/>
<rect x="199.0" y="757.4" width="34.4" height="9.6" rx="4.8" fill="#0c0c0c" opacity="0.95" filter="url(#b2)"/>
<rect x="246.6" y="745.0" width="32.4" height="3.0" rx="1.5" fill="#8a8a8a" opacity="0.55" filter="url(#b2)"/>
<rect x="246.6" y="756.6" width="33.4" height="6.2" rx="3.1" fill="#484848" opacity="0.8" filter="url(#b2)"/>
</g>
<rect x="57.10" y="739.40" width="230.40" height="30.30" fill="none" stroke="#0a0a0a" stroke-width="1.8"/>
<linearGradient id="gE4" x1="0" y1="0" x2="0" y2="1"><stop offset="0" stop-color="#a6a6a6"/><stop offset="0.5" stop-color="#aeaeae"/><stop offset="1" stop-color="#c2c2c2"/></linearGradient>
<clipPath id="c10"><rect x="56.2" y="774.9" width="232.20" height="31.70"/></clipPath>
<g clip-path="url(#c10)">
<rect x="56.20" y="774.90" width="232.20" height="31.70" fill="url(#gE4)"/>
<rect x="200" y="774" width="90" height="34" fill="#808080" opacity="0.35" filter="url(#b4)"/>
<rect x="60.0" y="787.0" width="222.0" height="7.5" rx="3.8" fill="#303030" opacity="0.6" filter="url(#b3)"/>
<rect x="61.4" y="786.0" width="39.6" height="9.4" rx="4.7" fill="#060606" opacity="0.93" filter="url(#b2)"/>
<rect x="108.0" y="784.8" width="38.0" height="11.2" rx="5.0" fill="#060606" opacity="0.93" filter="url(#b2)"/>
<rect x="151.0" y="786.6" width="38.4" height="8.0" rx="4.0" fill="#060606" opacity="0.93" filter="url(#b2)"/>
<rect x="196.4" y="786.0" width="36.1" height="9.2" rx="4.6" fill="#060606" opacity="0.93" filter="url(#b2)"/>
<rect x="239.5" y="784.4" width="42.3" height="14.2" rx="5.0" fill="#060606" opacity="0.93" filter="url(#b2)"/>
</g>
<rect x="57.10" y="775.80" width="230.40" height="29.90" fill="none" stroke="#0a0a0a" stroke-width="1.8"/>
<text x="53.4" y="674.1" font-size="12.7" font-weight="bold" text-anchor="end" stroke="#000" stroke-width="0.12">PPARγ2</text>
<text x="54.5" y="692.8" font-size="12.7" font-weight="bold" text-anchor="end" stroke="#000" stroke-width="0.12">PPAR γ1</text>
<text x="51.2" y="719.3" font-size="12.7" font-weight="bold" text-anchor="end" stroke="#000" stroke-width="0.12">β-actin</text>
<text x="53.2" y="748.9" font-size="12.7" font-weight="bold" text-anchor="end" stroke="#000" stroke-width="0.12">PPAR γ2</text>
<text x="53.2" y="774.1" font-size="12.7" font-weight="bold" text-anchor="end" stroke="#000" stroke-width="0.12">PPAR γ1</text>
<text x="50.3" y="793.7" font-size="12.7" font-weight="bold" text-anchor="end" stroke="#000" stroke-width="0.12">β-actin</text>
<line x1="295.2" y1="670.6" x2="295.2" y2="721.7" stroke="#0a0a0a" stroke-width="2.2"/>
<line x1="295.2" y1="744.8" x2="295.2" y2="803.2" stroke="#0a0a0a" stroke-width="2.2"/>
<text x="298.6" y="700.5" font-size="15.1" font-weight="bold" text-anchor="start" stroke="#000" stroke-width="0.2">Ad36</text>
<text x="301.0" y="774.5" font-size="15.1" font-weight="bold" text-anchor="start" stroke="#000" stroke-width="0.2">Ad2</text>
<text x="81.0" y="824.2" font-size="14.2" font-weight="bold" text-anchor="middle" stroke="#000" stroke-width="0.2">0</text>
<text x="129.0" y="824.2" font-size="14.2" font-weight="bold" text-anchor="middle" stroke="#000" stroke-width="0.2">2</text>
<text x="172.2" y="824.2" font-size="14.2" font-weight="bold" text-anchor="middle" stroke="#000" stroke-width="0.2">4</text>
<text x="215.5" y="824.2" font-size="14.2" font-weight="bold" text-anchor="middle" stroke="#000" stroke-width="0.2">6</text>
<text x="259.1" y="824.2" font-size="14.2" font-weight="bold" text-anchor="middle" stroke="#000" stroke-width="0.2">8</text>
<text x="276.6" y="824.2" font-size="14.6" font-weight="bold" text-anchor="start" stroke="#000" stroke-width="0.2">day</text>
<text transform="translate(347.0 646.2) scale(0.92 1)" font-size="30.6" font-weight="bold" stroke="#000" stroke-width="0.3">F</text>
<text x="368.2" y="886.0" font-size="18.0" font-weight="bold" text-anchor="start" transform="rotate(-90 368.2 886.0)" stroke="#000" stroke-width="0.2">Relative protein expression</text>
<text x="390.3" y="813.8" font-size="17.5" font-weight="bold" text-anchor="start" transform="rotate(-90 390.3 813.8)" stroke="#000" stroke-width="0.2">of PPARγ2</text>
<line x1="414.1" y1="661.1" x2="414.1" y2="875.5" stroke="#000" stroke-width="2.6"/>
<line x1="412.8" y1="874.2" x2="687.0" y2="874.2" stroke="#000" stroke-width="2.6"/>
<line x1="414.1" y1="662.2" x2="419.2" y2="662.2" stroke="#000" stroke-width="1.8"/>
<text x="406.4" y="670.8000000000001" font-size="16.8" font-weight="bold" text-anchor="end" stroke="#000" stroke-width="0.2">5</text>
<line x1="414.1" y1="704.5" x2="419.2" y2="704.5" stroke="#000" stroke-width="1.8"/>
<text x="406.4" y="713.1" font-size="16.8" font-weight="bold" text-anchor="end" stroke="#000" stroke-width="0.2">4</text>
<line x1="414.1" y1="746.9" x2="419.2" y2="746.9" stroke="#000" stroke-width="1.8"/>
<text x="406.4" y="755.5" font-size="16.8" font-weight="bold" text-anchor="end" stroke="#000" stroke-width="0.2">3</text>
<line x1="414.1" y1="789.8" x2="419.2" y2="789.8" stroke="#000" stroke-width="1.8"/>
<text x="406.4" y="798.4" font-size="16.8" font-weight="bold" text-anchor="end" stroke="#000" stroke-width="0.2">2</text>
<line x1="414.1" y1="832.2" x2="419.2" y2="832.2" stroke="#000" stroke-width="1.8"/>
<text x="406.4" y="840.8000000000001" font-size="16.8" font-weight="bold" text-anchor="end" stroke="#000" stroke-width="0.2">1</text>
<text x="406.4" y="883.0" font-size="16.8" font-weight="bold" text-anchor="end" stroke="#000" stroke-width="0.2">0</text>
<line x1="430.8" y1="824.0" x2="430.8" y2="832.7" stroke="#000" stroke-width="2.7"/>
<line x1="425.40000000000003" y1="824.0" x2="436.2" y2="824.0" stroke="#000" stroke-width="2.4"/>
<line x1="451.0" y1="827.0" x2="451.0" y2="832.5" stroke="#000" stroke-width="2.7"/>
<line x1="445.6" y1="827.0" x2="456.4" y2="827.0" stroke="#000" stroke-width="2.4"/>
<rect x="420.10" y="832.90" width="20.40" height="41.30" fill="#fff" stroke="#000" stroke-width="2.4"/>
<rect x="439.50" y="831.50" width="22.20" height="42.70" fill="#000"/>
<line x1="486.35" y1="822.0" x2="486.35" y2="830.0" stroke="#000" stroke-width="2.7"/>
<line x1="480.95000000000005" y1="822.0" x2="491.75" y2="822.0" stroke="#000" stroke-width="2.4"/>
<line x1="506.15" y1="783.4" x2="506.15" y2="787.3" stroke="#000" stroke-width="2.7"/>
<line x1="500.75" y1="783.4" x2="511.54999999999995" y2="783.4" stroke="#000" stroke-width="2.4"/>
<rect x="475.90" y="830.20" width="19.90" height="44.00" fill="#fff" stroke="#000" stroke-width="2.4"/>
<rect x="494.80" y="786.30" width="21.90" height="87.90" fill="#000"/>
<line x1="540.4" y1="830.2" x2="540.4" y2="835.8" stroke="#000" stroke-width="2.7"/>
<line x1="535.0" y1="830.2" x2="545.8" y2="830.2" stroke="#000" stroke-width="2.4"/>
<line x1="560.65" y1="731.9" x2="560.65" y2="746.9" stroke="#000" stroke-width="2.7"/>
<line x1="555.25" y1="731.9" x2="566.05" y2="731.9" stroke="#000" stroke-width="2.4"/>
<rect x="530.10" y="836.00" width="19.60" height="38.20" fill="#fff" stroke="#000" stroke-width="2.4"/>
<rect x="548.70" y="745.90" width="23.10" height="128.30" fill="#000"/>
<line x1="595.0500000000001" y1="822.6" x2="595.0500000000001" y2="826.6" stroke="#000" stroke-width="2.7"/>
<line x1="589.6500000000001" y1="822.6" x2="600.45" y2="822.6" stroke="#000" stroke-width="2.4"/>
<line x1="615.3" y1="706.0" x2="615.3" y2="715.9" stroke="#000" stroke-width="2.7"/>
<line x1="609.9" y1="706.0" x2="620.6999999999999" y2="706.0" stroke="#000" stroke-width="2.4"/>
<rect x="584.60" y="826.80" width="19.90" height="47.40" fill="#fff" stroke="#000" stroke-width="2.4"/>
<rect x="603.50" y="714.90" width="22.80" height="159.30" fill="#000"/>
<line x1="649.5000000000001" y1="842.9" x2="649.5000000000001" y2="844.9" stroke="#000" stroke-width="2.7"/>
<line x1="644.1000000000001" y1="842.9" x2="654.9000000000001" y2="842.9" stroke="#000" stroke-width="2.4"/>
<line x1="670.0500000000001" y1="710.6" x2="670.0500000000001" y2="713.4" stroke="#000" stroke-width="2.7"/>
<line x1="664.6500000000001" y1="710.6" x2="675.45" y2="710.6" stroke="#000" stroke-width="2.4"/>
<rect x="638.80" y="845.10" width="20.40" height="29.10" fill="#fff" stroke="#000" stroke-width="2.4"/>
<rect x="658.20" y="712.40" width="22.90" height="161.80" fill="#000"/>
<text x="437.6" y="897.5" font-size="17.0" font-weight="bold" text-anchor="middle" stroke="#000" stroke-width="0.2">0</text>
<text x="492.2" y="897.5" font-size="17.0" font-weight="bold" text-anchor="middle" stroke="#000" stroke-width="0.2">2</text>
<text x="546.3" y="897.5" font-size="17.0" font-weight="bold" text-anchor="middle" stroke="#000" stroke-width="0.2">4</text>
<text x="601.5" y="897.5" font-size="17.0" font-weight="bold" text-anchor="middle" stroke="#000" stroke-width="0.2">6</text>
<text x="656.5" y="897.5" font-size="17.0" font-weight="bold" text-anchor="middle" stroke="#000" stroke-width="0.2">8</text>
<text x="546.4" y="913.8" font-size="17.7" font-weight="bold" text-anchor="middle" stroke="#000" stroke-width="0.2">Time (day)</text>
<text x="503" y="779.9" font-size="17.5" font-weight="normal" text-anchor="middle" stroke="#000" stroke-width="0.35">*</text>
<text x="558.7" y="730.6" font-size="17.5" font-weight="normal" text-anchor="middle" stroke="#000" stroke-width="0.35">*</text>
<text x="614.1" y="701.0" font-size="17.5" font-weight="normal" text-anchor="middle" stroke="#000" stroke-width="0.35">*</text>
<text x="668.3" y="704.6999999999999" font-size="17.5" font-weight="normal" text-anchor="middle" stroke="#000" stroke-width="0.35">*</text>
<rect x="426.75" y="663.95" width="21.40" height="7.70" fill="#fff" stroke="#000" stroke-width="2.5"/>
<rect x="425.50" y="679.90" width="23.90" height="10.40" fill="#000"/>
<text x="460.3" y="678.7" font-size="17.3" font-weight="normal" text-anchor="start" stroke="#000" stroke-width="0.1">Ad2</text>
<text x="460.3" y="695.3" font-size="17.3" font-weight="normal" text-anchor="start" stroke="#000" stroke-width="0.1">Ad36</text>
</svg></body></html>
